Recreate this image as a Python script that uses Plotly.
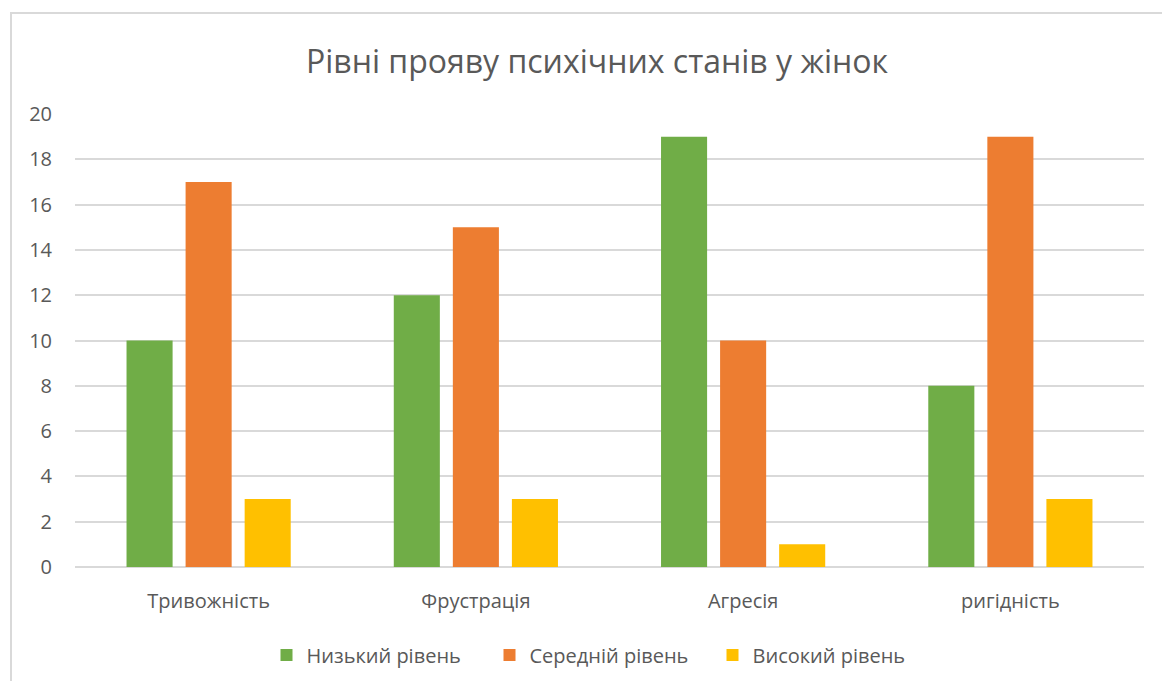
import plotly.graph_objects as go

categories = ["Тривожність", "Фрустрація", "Агресія", "ригідність"]
low = [10, 12, 19, 8]
mid = [17, 15, 10, 19]
high = [3, 3, 1, 3]
series_names = ["Низький рівень", "Середній рівень", "Високий рівень"]
colors = ["#70AD47", "#ED7D31", "#FFC000"]
y_ticks = list(range(0, 21, 2))
title = "Рівні прояву психічних станів у жінок"

FONT = "Open Sans"
TXT = "#595959"

fig = go.Figure()
for name, vals, c in zip(series_names, [low, mid, high], colors):
    fig.add_trace(go.Bar(x=categories, y=vals, name=name, marker=dict(color=c, line=dict(width=0))))

W, H = 1162, 681
L, R, T, B = 75, 18, 114, 114
pw, ph = W - L - R, H - T - B

def px2paper_x(px):
    return (px - L) / pw

def px2paper_y(py):
    return (H - B - py) / ph

fig.update_layout(
    width=W, height=H,
    margin=dict(l=L, r=R, t=T, b=B),
    paper_bgcolor="white", plot_bgcolor="white",
    barmode="group", bargap=0.337, bargroupgap=0.22,
    title=dict(text=title, x=597 / W, xanchor="center", y=1 - 62 / H, yanchor="middle",
               font=dict(family=FONT, size=32, color=TXT)),
    font=dict(family=FONT, color=TXT),
    xaxis=dict(showgrid=False, showline=False, ticks="", tickfont=dict(size=20, color=TXT),
               ticklabelstandoff=20),
    yaxis=dict(range=[0, 20], tickvals=y_ticks, showgrid=True, gridcolor="#D9D9D9", gridwidth=1.5,
               zeroline=True, zerolinecolor="#D9D9D9", zerolinewidth=1.5,
               showline=False, ticks="", tickfont=dict(size=20, color=TXT), ticklabelstandoff=22),
    legend=dict(orientation="h", x=601 / W, xanchor="center", xref="container",
                y=1 - 655 / H, yanchor="middle", yref="container",
                font=dict(size=20, color=TXT), traceorder="normal",
                entrywidth=178, entrywidthmode="pixels"),
    shapes=[dict(type="rect", xref="paper", yref="paper",
                 x0=px2paper_x(11), x1=px2paper_x(1175),
                 y0=px2paper_y(700), y1=px2paper_y(13),
                 line=dict(color="#D9D9D9", width=2), fillcolor="rgba(0,0,0,0)", layer="below")],
)

fig.write_html("out.html")
